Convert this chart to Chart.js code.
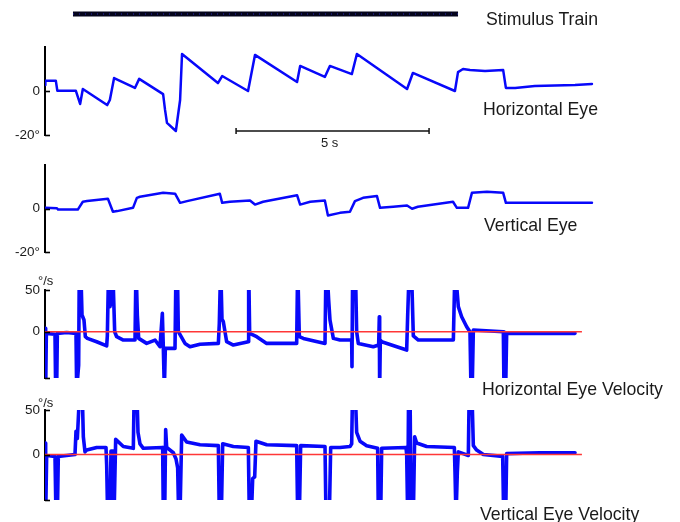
<!DOCTYPE html>
<html>
<head>
<meta charset="utf-8">
<script src="https://cdn.jsdelivr.net/npm/chart.js@4.4.1/dist/chart.umd.min.js"></script>
<style>
  html, body { margin: 0; padding: 0; background: #fff; }
  #fig { position: relative; width: 680px; height: 522px; overflow: hidden;
         font-family: "Liberation Sans", Arial, Helvetica, sans-serif; color: #1a1a1a; }
  #fig canvas { position: absolute; left: 0; top: 0; }
  .lbl { position: absolute; white-space: nowrap; font-size: 17.7px; line-height: 1; }
  .unit { position: absolute; white-space: nowrap; font-size: 13px; line-height: 1; }
</style>
</head>
<body>
<div id="fig">
  <canvas id="cStim" width="680" height="522"></canvas>
  <canvas id="cHPos" width="680" height="522"></canvas>
  <canvas id="cVPos" width="680" height="522"></canvas>
  <canvas id="cHVel" width="680" height="522"></canvas>
  <canvas id="cVVel" width="680" height="522"></canvas>

  <div class="lbl" style="left:486px;top:10.5px">Stimulus Train</div>
  <div class="lbl" style="left:483px;top:100.5px">Horizontal Eye</div>
  <div class="unit" style="left:321px;top:136px">5 s</div>
  <div class="lbl" style="left:484px;top:216.5px">Vertical Eye</div>
  <div class="unit" style="left:38px;top:274px">°/s</div>
  <div class="lbl" style="left:482px;top:380.5px">Horizontal Eye Velocity</div>
  <div class="unit" style="left:38px;top:396px">°/s</div>
  <div class="lbl" style="left:480px;top:505.5px">Vertical Eye Velocity</div>
</div>

<script>
// ---- recorded traces: [time (s), value] ----
const stimulusOn  = [0.725, 10.70];          // stimulus train start / end (s)
const scaleBar    = [4.95, 9.95];            // 5 s calibration bar (s)
const scaleBarLevel = -18.2;                 // deg, height of the bar in the top panel

// horizontal eye position (deg)
const horizEye = [
  [0.00, 2.7], [0.01, 4.7], [0.28, 4.7], [0.32, 0.1], [0.80, 0.1], [0.91, -5.9],
  [0.98, 0.9], [1.61, -6.4], [1.68, -4.1], [1.79, 5.9], [2.33, 1.4], [2.44, 5.5],
  [3.06, -1.4], [3.11, -8.6], [3.16, -14.5], [3.39, -18.2], [3.50, -4.1], [3.55, 16.8],
  [4.48, 3.6], [4.59, 6.8], [5.26, 0.0], [5.44, 16.4], [6.53, 4.1], [6.61, 11.4],
  [7.25, 6.4], [7.38, 11.4], [7.95, 7.7], [8.08, 16.8], [9.38, 0.9], [9.53, 8.2],
  [10.62, 0.0], [10.70, 8.6], [10.83, 10.0], [11.01, 9.5], [11.40, 9.1], [11.87, 9.5],
  [11.94, 1.4], [12.18, 1.4], [12.69, 2.3], [13.73, 2.7], [14.17, 3.2]
];

// vertical eye position (deg)
const vertEye = [
  [0.00, 0.3], [0.31, 0.1], [0.34, -0.5], [0.85, -0.5], [0.98, 3.1], [1.09, 3.4],
  [1.63, 4.5], [1.76, -1.5], [1.87, -1.2], [2.28, 0.3], [2.38, 4.9], [2.46, 5.4],
  [3.06, 7.2], [3.37, 6.8], [3.50, 2.6], [3.68, 3.4], [4.53, 6.8], [4.59, 2.6],
  [4.79, 3.1], [5.31, 3.7], [5.44, 1.8], [5.65, 3.1], [6.53, 6.1], [6.61, 1.8],
  [6.87, 3.1], [7.25, 3.7], [7.33, -3.2], [7.64, -2.0], [7.90, -1.5], [8.03, 3.4],
  [8.24, 4.9], [8.60, 5.7], [8.68, 0.3], [9.02, 0.8], [9.38, 1.4], [9.51, -0.1],
  [9.66, 0.8], [10.57, 3.1], [10.67, 0.3], [10.96, 0.3], [11.06, 7.2], [11.45, 7.7],
  [11.87, 7.2], [11.94, 2.6], [14.17, 2.6]
];

// horizontal eye velocity (deg/s); saccade peaks run off the axis
const horizVel = [
  [0.000, 4], [0.017, -70], [0.035, -2], [0.259, -3], [0.276, -70], [0.302, -70], [0.320, -2],
  [0.561, -1], [0.803, -2], [0.820, -70], [0.872, -40], [0.889, 80], [0.924, 80], [0.959, 20],
  [1.010, 14], [1.045, -6], [1.097, -8], [1.339, -12], [1.598, -17], [1.615, -5], [1.649, 80],
  [1.684, 30], [1.718, 40], [1.753, 80], [1.805, 0], [1.857, -6], [2.029, -10], [2.332, -10],
  [2.358, 80], [2.392, 20], [2.427, -8], [2.634, -14], [2.850, -10], [2.979, -18], [3.040, 22],
  [3.066, -20], [3.092, -70], [3.117, -20], [3.368, -20], [3.394, 80], [3.428, 80], [3.454, 0],
  [3.627, -14], [3.756, -18], [4.016, -15], [4.491, -14], [4.516, 10], [4.551, 80], [4.585, 15],
  [4.620, 12], [4.706, -12], [4.879, -16], [5.268, -12], [5.276, 80], [5.302, -2], [5.484, -6],
  [5.743, -14], [6.520, -14], [6.546, 80], [6.589, -6], [6.693, -8], [7.254, -14], [7.280, 80],
  [7.323, 60], [7.349, 38], [7.383, 14], [7.470, -8], [7.642, -10], [7.945, -10], [7.953, -42],
  [7.971, 80], [8.040, 80], [8.074, 0], [8.117, -14], [8.506, -18], [8.644, -16], [8.661, 18],
  [8.670, -70], [8.687, -10], [8.722, -12], [9.370, -22], [9.396, 20], [9.439, 80], [9.491, 80],
  [9.542, -5], [9.672, -10], [10.579, -10], [10.622, 80], [10.708, 30], [10.794, 18], [10.924, 6],
  [11.010, 0], [11.036, -70], [11.071, -60], [11.097, 2], [11.874, 0], [11.891, -70], [11.934, -70],
  [11.960, -2], [13.731, -2]
];

// vertical eye velocity (deg/s)
const vertVel = [
  [0.000, 13], [0.017, -70], [0.043, -1], [0.259, -2], [0.285, -70], [0.320, -70], [0.345, -2],
  [0.561, -1], [0.777, 0], [0.803, 26], [0.838, 18], [0.907, 80], [0.959, 80], [0.993, 20],
  [1.036, 3], [1.079, 5], [1.339, 8], [1.580, 8], [1.598, -12], [1.623, -70], [1.684, -70],
  [1.710, 4], [1.770, 4], [1.788, -70], [1.813, -70], [1.831, 17], [2.029, 9], [2.288, 7],
  [2.314, 80], [2.375, 80], [2.409, 25], [2.461, 12], [2.547, 7], [3.048, 8], [3.066, -70],
  [3.100, -70], [3.126, 28], [3.152, 8], [3.325, 2], [3.394, -5], [3.437, -15], [3.463, -70],
  [3.497, -70], [3.541, 22], [3.670, 14], [4.016, 11], [4.491, 10], [4.516, -70], [4.568, -70],
  [4.603, 12], [4.879, 9], [5.268, 8], [5.294, -70], [5.345, -70], [5.380, -27], [5.432, -25],
  [5.466, 15], [5.743, 11], [6.520, 10], [6.546, -70], [6.589, -70], [6.623, 10], [7.254, 9],
  [7.280, -70], [7.366, -70], [7.401, 8], [7.642, 8], [7.902, 9], [7.945, 12], [7.971, 80],
  [8.031, 80], [8.074, 25], [8.161, 15], [8.333, 10], [8.618, 7], [8.636, -70], [8.696, -70],
  [8.722, 7], [9.352, 8], [9.370, 0], [9.396, -70], [9.421, 80], [9.456, 80], [9.482, -70],
  [9.542, -70], [9.577, 20], [9.629, 13], [9.888, 9], [10.605, 8], [10.622, -20], [10.648, -70],
  [10.682, -20], [10.708, 3], [10.967, -1], [10.993, 80], [11.054, 80], [11.097, 10], [11.183, 5],
  [11.356, 0], [11.857, -2], [11.883, -70], [11.934, -70], [11.960, 1], [12.824, 2], [13.731, 2]
];

const zeroLineEnd = 13.91;                  // s, extent of the red zero reference
const posTicks = [-20, 0];
const velTicks = [0, 50];

// ---- shared layout ----
const W = 680, H = 522;
const T_MAX = 14.4;                          // s across the plotting width
const AXIS_X = 45;                           // left edge of every panel
const PX_PER_S = 38.6;
const PLOT_RIGHT = AXIS_X + T_MAX * PX_PER_S;
const BLUE = 'rgb(8,8,250)';
const RED = 'rgb(255,55,55)';

Chart.defaults.font.family = '"Liberation Sans", Arial, Helvetica, sans-serif';
Chart.defaults.color = '#1a1a1a';

const toXY = arr => arr.map(p => ({ x: p[0], y: p[1] }));

// short inward tick marks (MATLAB style) along the left axis
const inwardTicks = {
  id: 'inwardTicks',
  afterDatasetsDraw(chart, args, opts) {
    if (!opts.values) return;
    const y = chart.scales.y, ctx = chart.ctx, x0 = chart.chartArea.left;
    ctx.save();
    ctx.strokeStyle = '#000';
    ctx.lineWidth = 1.6;
    opts.values.forEach(v => {
      const py = Math.round(y.getPixelForValue(v)) + 0.5;
      ctx.beginPath();
      ctx.moveTo(x0, py);
      ctx.lineTo(x0 + 5, py);
      ctx.stroke();
    });
    ctx.restore();
  }
};

function panel(id, cfg) {
  const hasAxis = cfg.axis !== false;
  const yScale = {
    type: 'linear', min: cfg.yMin, max: cfg.yMax,
    display: hasAxis,
    grid: { display: true, drawOnChartArea: false, drawTicks: false },
    border: { display: true, color: '#000', width: 2 },
    ticks: {
      padding: 5, autoSkip: false,
      font: { size: 13.5 }, color: '#1a1a1a',
      callback: v => cfg.tickText ? cfg.tickText(v) : String(v)
    },
    afterBuildTicks: s => { s.ticks = (cfg.ticks || []).map(v => ({ value: v })); },
    afterFit: s => { s.width = hasAxis ? AXIS_X : 0; }
  };
  return new Chart(document.getElementById(id), {
    type: 'line',
    data: { datasets: cfg.datasets },
    options: {
      responsive: false, animation: false, devicePixelRatio: 1,
      events: [],
      layout: { padding: {
        left: hasAxis ? 0 : AXIS_X,
        right: W - PLOT_RIGHT,
        top: cfg.top,
        bottom: H - cfg.bottom
      } },
      plugins: {
        legend: { display: false }, tooltip: { enabled: false },
        inwardTicks: { values: cfg.inward }
      },
      elements: { point: { radius: 0 }, line: { tension: 0 } },
      scales: {
        x: { type: 'linear', min: 0, max: T_MAX, display: false },
        y: yScale
      }
    },
    plugins: [inwardTicks]
  });
}

const trace = (data, width) => ({
  data: toXY(data), borderColor: BLUE, borderWidth: width,
  pointRadius: 0, borderJoinStyle: 'round', borderCapStyle: 'round'
});
const zeroLine = () => ({
  data: [{ x: 0, y: 0 }, { x: zeroLineEnd, y: 0 }],
  borderColor: RED, borderWidth: 1.6, pointRadius: 0
});
const degText = v => v < 0 ? v + '°' : String(v);

// stimulus train bar
panel('cStim', {
  top: 4, bottom: 24, yMin: -1, yMax: 1, axis: false,
  datasets: [
    { data: [{ x: stimulusOn[0], y: 0 }, { x: stimulusOn[1], y: 0 }],
      borderColor: 'rgba(40,40,170,0.55)', borderWidth: 2, borderDash: [1, 5], pointRadius: 0 },
    { data: [{ x: stimulusOn[0], y: 0 }, { x: stimulusOn[1], y: 0 }],
      borderColor: '#05051c', borderWidth: 5, pointRadius: 0, borderCapStyle: 'butt' }
  ]
});

// horizontal eye position with the 5 s calibration bar
panel('cHPos', {
  top: 47, bottom: 135, yMin: -20, yMax: 20,
  ticks: posTicks, tickText: degText, inward: posTicks,
  datasets: [
    { data: [{ x: scaleBar[0], y: scaleBarLevel }, { x: scaleBar[1], y: scaleBarLevel }],
      borderColor: '#111', borderWidth: 1.5,
      pointRadius: 3, pointStyle: 'line', rotation: 90,
      pointBorderColor: '#111', pointBorderWidth: 1.5 },
    trace(horizEye, 2.5)
  ]
});

// vertical eye position
panel('cVPos', {
  top: 165, bottom: 252, yMin: -20, yMax: 20,
  ticks: posTicks, tickText: degText, inward: posTicks,
  datasets: [ trace(vertEye, 2.5) ]
});

// horizontal eye velocity
panel('cHVel', {
  top: 290, bottom: 378, yMin: -55.5, yMax: 50,
  ticks: velTicks, inward: [50, 0, -55.5],
  datasets: [ zeroLine(), trace(horizVel, 3.6) ]
});

// vertical eye velocity
panel('cVVel', {
  top: 410, bottom: 500, yMin: -51, yMax: 50,
  ticks: velTicks, inward: [50, 0, -51],
  datasets: [ zeroLine(), trace(vertVel, 3.6) ]
});
</script>
</body>
</html>
